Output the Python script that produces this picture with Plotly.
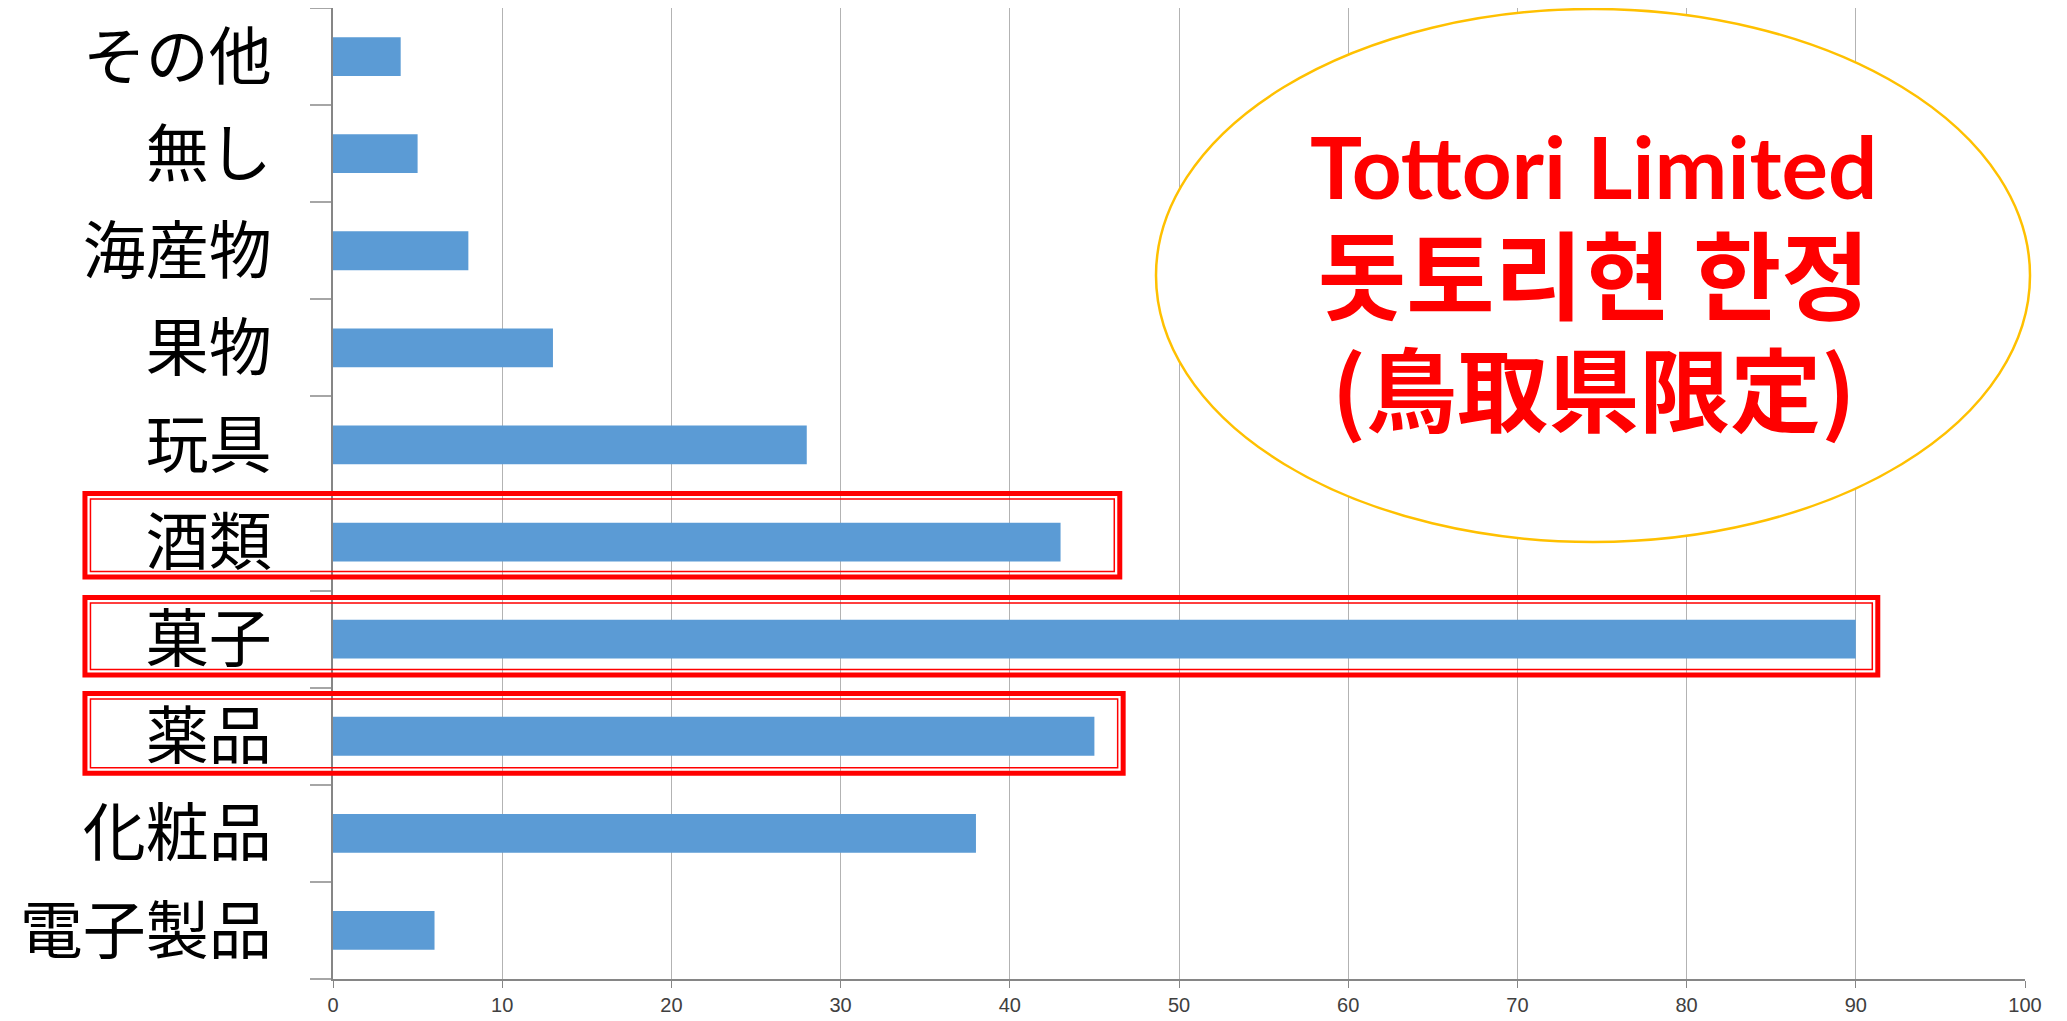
import plotly.graph_objects as go

# Data (bottom to top)
categories = ["電子製品", "化粧品", "薬品", "菓子", "酒類", "玩具", "果物", "海産物", "無し", "その他"]
values = [6, 38, 45, 90, 43, 28, 13, 8, 5, 4]
x_ticks = [0, 10, 20, 30, 40, 50, 60, 70, 80, 90, 100]

callout_lines = ["Tottori Limited", "돗토리현 한정", "(鳥取県限定)"]

# Highlighted categories: (category, left x, right x, top offset, bottom offset) in axis units
highlights = [
    ("酒類", -14.66, 46.5, 0.50, -0.36),
    ("菓子", -14.66, 91.3, 0.43, -0.37),
    ("薬品", -14.66, 46.7, 0.44, -0.38),
]

# page has an 8px body margin; figure sized so it fills the window exactly
OFF = 8
W, H = 2067 - OFF, 1021 - OFF
ML, MR, MT, MB = 325, 42, 0, 42
PW, PH = W - ML - MR, H - MT - MB
XMIN, XMAX = 0, 100
N = len(categories)


def px_x(page_x):
    return (page_x - OFF - ML) / PW


def px_y(page_y):
    return 1 - (page_y - OFF - MT) / PH


fig = go.Figure()
fig.add_trace(go.Bar(
    y=categories, x=values, orientation="h",
    marker=dict(color="#5B9BD5", line=dict(width=0)),
    width=0.4,
))


def xp(v):
    return (v - XMIN) / (XMAX - XMIN)


def yp(idx):
    return (idx + 0.5) / N


shapes = []
# callout ellipse (white fill hides gridlines)
shapes.append(dict(
    type="circle", xref="paper", yref="paper",
    x0=px_x(1156), x1=px_x(2030), y0=px_y(542), y1=px_y(9),
    line=dict(color="#FFC000", width=2.5), fillcolor="white", layer="above",
))
# double red outlines
dx_in = 5.5 / PW
dy_in = 5.5 / PH
for cat, xl, xr, top, bot in highlights:
    i = categories.index(cat)
    x0, x1 = xp(xl), xp(xr)
    y0, y1 = yp(i + bot), yp(i + top)
    shapes.append(dict(type="rect", xref="paper", yref="paper",
                       x0=x0, x1=x1, y0=y0, y1=y1,
                       line=dict(color="#FF0000", width=5), layer="above"))
    shapes.append(dict(type="rect", xref="paper", yref="paper",
                       x0=x0 + dx_in, x1=x1 - dx_in, y0=y0 + dy_in, y1=y1 - dy_in,
                       line=dict(color="#FF0000", width=1.5), layer="above"))

callout_text = "<br>".join([
    f"<b>{callout_lines[0]}</b>",
    f"<b><span style='font-family:\"Noto Sans CJK KR\"; font-size:96px'>{callout_lines[1]}</span></b>",
    f"<b><span style='font-family:\"Noto Sans CJK JP\"; font-size:91px'>{callout_lines[2]}</span></b>",
])
annotations = [dict(
    text=callout_text, xref="paper", yref="paper",
    x=px_x(1593), y=px_y(282), xanchor="center", yanchor="middle",
    showarrow=False, align="center",
    font=dict(family="Lato, 'Noto Sans CJK KR', sans-serif", size=87, color="#FF0000"),
)]

fig.update_layout(
    width=W, height=H, autosize=False,
    margin=dict(l=ML, r=MR, t=MT, b=MB, pad=0, autoexpand=False),
    paper_bgcolor="white", plot_bgcolor="white",
    showlegend=False, bargap=0.6,
    shapes=shapes, annotations=annotations,
    xaxis=dict(
        range=[XMIN, XMAX], tickvals=x_ticks, ticktext=[str(v) for v in x_ticks],
        showgrid=True, gridcolor="#B3B3B3", gridwidth=1,
        showline=True, linecolor="#868686", linewidth=1.5,
        ticks="outside", ticklen=7, tickcolor="#868686", tickwidth=1,
        tickfont=dict(family="'Liberation Sans', Arial, sans-serif", size=20, color="#404040"),
        zeroline=False, fixedrange=True, automargin=False,
    ),
    yaxis=dict(
        type="category", categoryorder="array", categoryarray=categories,
        range=[-0.5, N - 0.5],
        showgrid=False, showline=True, linecolor="#868686", linewidth=1.5,
        ticks="outside", ticklen=21, tickcolor="#A6A6A6", tickwidth=1.5,
        tickson="boundaries", ticklabelstandoff=47,
        tickfont=dict(family="'Noto Sans CJK JP', sans-serif", size=63, color="#000000"),
        zeroline=False, fixedrange=True, automargin=False,
    ),
)

fig.write_html("out.html")
